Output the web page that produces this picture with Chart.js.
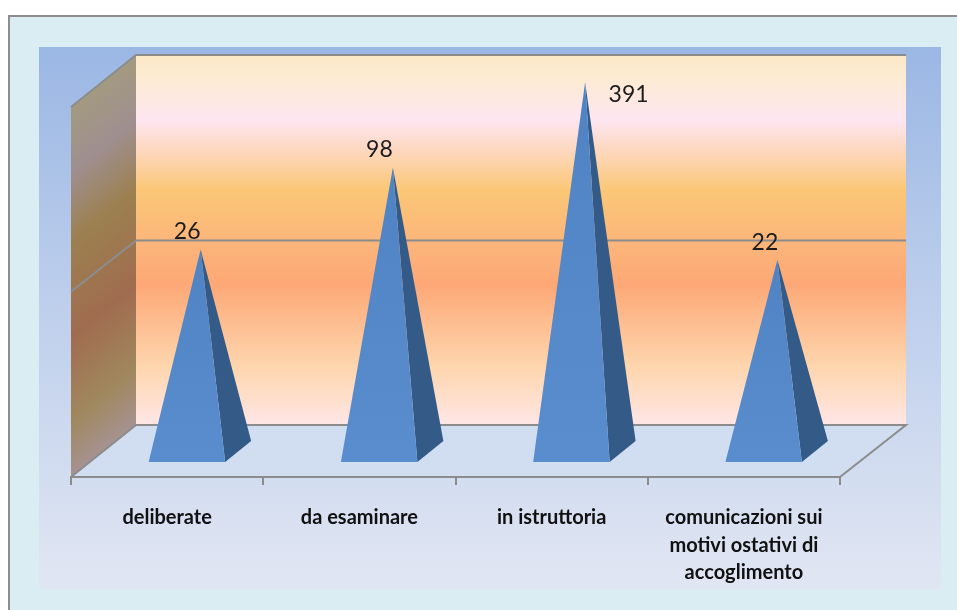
<!DOCTYPE html>
<html><head><meta charset="utf-8">
<script src="https://cdn.jsdelivr.net/npm/chart.js@4"></script>
<style>html,body{margin:0;padding:0;background:#fff}canvas{display:block}</style>
</head><body>
<canvas id="c" width="957" height="610"></canvas>
<script>
const categories = ["deliberate","da esaminare","in istruttoria",["comunicazioni sui","motivi ostativi di","accoglimento"]];
const values = [26,98,391,22];
const gridValue = 30;
const labelOffsets = [[20,-18],[20,-18],[77,12],[21,-17]];
const wallStops = [[0,'#FCE9C8'],[0.06,'#FDEBD2'],[0.176,'#FEE6F1'],[0.25,'#FDD9C4'],[0.365,'#FBC776'],[0.5,'#FBB67A'],[0.62,'#FDA876'],[0.85,'#FED7B0'],[1,'#FFE6E6']];
const sideStops = [[0,'#A39A80'],[0.176,'#9F8F90'],[0.365,'#9C8050'],[0.62,'#A06C4F'],[0.85,'#A0885E'],[1,'#A69292']];

const scene = {
  id:'scene',
  beforeDraw(chart){
    const g=chart.ctx, a=chart.chartArea, W=chart.width, H=chart.height;
    const dx=65, dy=52, L=a.left, R=a.right, T=a.top, B=a.bottom;
    g.save();
    g.fillStyle='#fff'; g.fillRect(0,0,W,H);
    g.fillStyle='#DAEDF3'; g.fillRect(8,15,W-8,H-15);
    g.fillStyle='#8E8E8E'; g.fillRect(8,15,W-8,2); g.fillRect(8,15,2,H-15);
    let bg=g.createLinearGradient(0,47,0,589);
    bg.addColorStop(0,'#9BB7E4'); bg.addColorStop(0.5,'#BFD0EC'); bg.addColorStop(1,'#E1E6F3');
    g.fillStyle=bg; g.fillRect(39,47,902,542);
    g.fillStyle='#D1DDF0';
    g.beginPath(); g.moveTo(L+dx,B-dy); g.lineTo(R+dx+1,B-dy); g.lineTo(R,B); g.lineTo(L,B); g.closePath(); g.fill();
    let w=g.createLinearGradient(0,T,0,B-dy);
    wallStops.forEach(s=>w.addColorStop(s[0],s[1]));
    g.fillStyle=w; g.fillRect(L+dx,T,R-L+1,B-dy-T);
    const h=B-dy-T, n=h*0.781;
    let sw=g.createLinearGradient(L+dx,T,L+dx+n*0.625,T+n*0.781);
    sideStops.forEach(s=>sw.addColorStop(s[0],s[1]));
    g.fillStyle=sw;
    g.beginPath(); g.moveTo(L+dx,T); g.lineTo(L+dx,B-dy); g.lineTo(L,B); g.lineTo(L,T+dy); g.closePath(); g.fill();
    g.strokeStyle='#8C8C8C'; g.lineWidth=2;
    const yG=chart.scales.y.getPixelForValue(gridValue);
    g.beginPath();
    g.moveTo(L,T+dy); g.lineTo(L+dx,T); g.lineTo(R+dx+1,T);
    g.moveTo(L,yG+dy-1); g.lineTo(L+dx,yG); g.lineTo(R+dx+1,yG);
    g.moveTo(L,B); g.lineTo(L+dx,B-dy); g.lineTo(R+dx+1,B-dy); g.lineTo(R,B);
    g.stroke();
    g.restore();
  },
  afterDatasetsDraw(chart){
    const g=chart.ctx, B=chart.chartArea.bottom, meta=chart.getDatasetMeta(0);
    g.save();
    meta.data.forEach((el,i)=>{
      const left=el.x-18.5, right=el.x+58, backR=el.x+84, apexX=el.x+33.5, baseY=B-15, backY=B-36;
      g.fillStyle='#345B87';
      g.beginPath(); g.moveTo(apexX,el.y); g.lineTo(right,baseY); g.lineTo(backR,backY); g.closePath(); g.fill();
      const f=g.createLinearGradient(0,el.y,0,baseY);
      f.addColorStop(0,'#4F83C4'); f.addColorStop(1,'#5A8DCE');
      g.fillStyle=f;
      g.beginPath(); g.moveTo(apexX,el.y); g.lineTo(left,baseY); g.lineTo(right,baseY); g.closePath(); g.fill();
      g.fillStyle='#1C1C1C'; g.font='23px Lato'; g.textAlign='center'; g.textBaseline='middle';
      g.fillText(String(values[i]), el.x+labelOffsets[i][0], el.y+labelOffsets[i][1]);
    });
    g.restore();
  }
};

new Chart(document.getElementById('c'),{
  type:'bar',
  data:{labels:categories,datasets:[{data:values,backgroundColor:'rgba(0,0,0,0)',borderWidth:0}]},
  plugins:[scene],
  options:{
    responsive:false,animation:false,
    layout:{padding:{left:71,right:117,top:55,bottom:0}},
    plugins:{legend:{display:false},tooltip:{enabled:false}},
    scales:{
      y:{type:'logarithmic',min:0.65,max:608,display:false},
      x:{
        afterFit(s){s.height=133;},
        offset:true,
        border:{color:'#8C8C8C',width:2},
        grid:{drawOnChartArea:false,drawTicks:true,tickLength:8,color:'#8C8C8C',lineWidth:2,offset:true},
        ticks:{color:'#111',font:{family:'Lato',size:20,weight:'bold',lineHeight:1.37},padding:19,maxRotation:0,autoSkip:false}
      }
    }
  }
});
</script>
</body></html>
